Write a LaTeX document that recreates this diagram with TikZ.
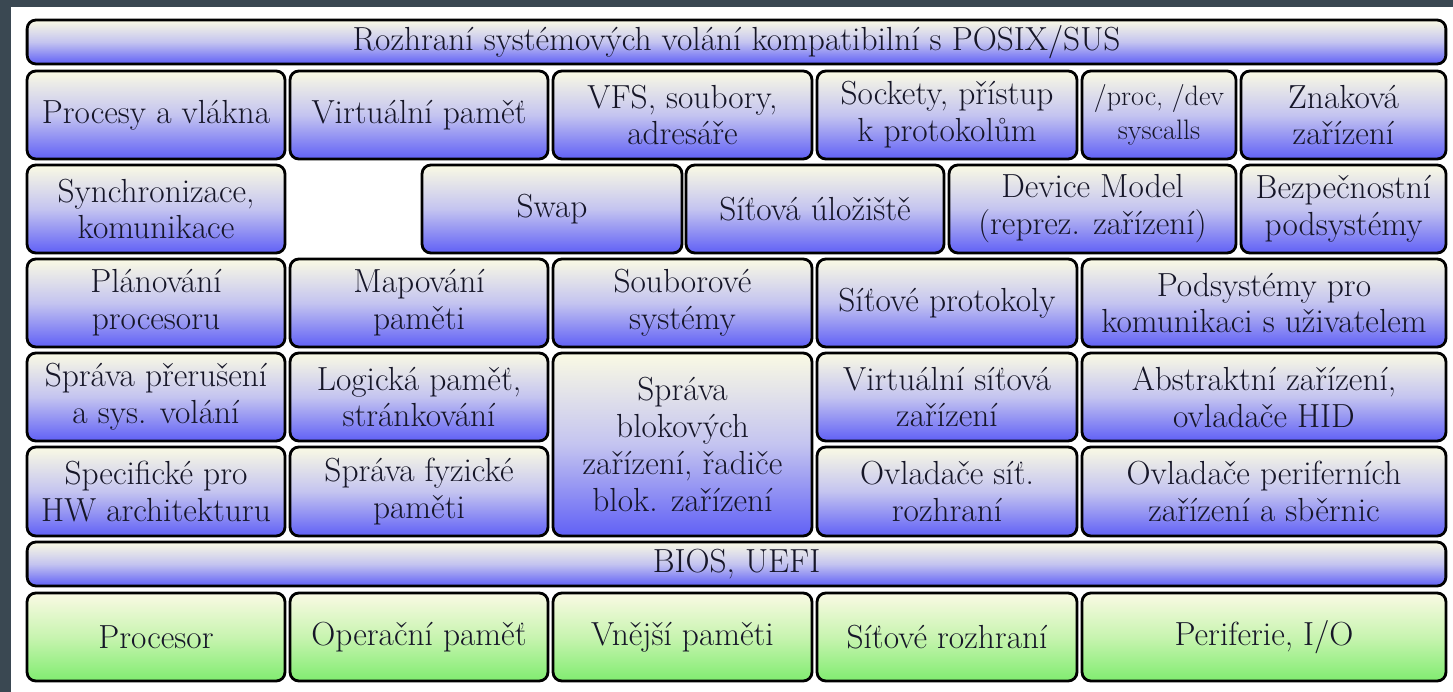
\documentclass[tikz,border=0pt]{standalone}
\usepackage{tikz}
\usetikzlibrary{positioning}
\definecolor{creamtop}{RGB}{250,250,228}
\definecolor{bluemid}{RGB}{196,196,240}
\definecolor{bluebot}{RGB}{96,96,246}
\definecolor{greenmid}{RGB}{200,244,176}
\definecolor{greenbot}{RGB}{128,236,112}
\definecolor{slate}{RGB}{58,72,82}
\definecolor{inktext}{RGB}{22,22,40}

\begin{document}
\begin{tikzpicture}[x=0.02cm, y=-0.02cm,
  layer/.style={rectangle, draw=black, line width=1.6pt, rounded corners=5pt, top color=creamtop, bottom color=bluebot, middle color=bluemid, text=inktext, align=center, inner sep=1pt, minimum width=5.16cm, minimum height=1.76cm, font=\fontsize{19}{21}\selectfont},
  hwbox/.style={layer, bottom color=greenbot, middle color=greenmid},
  bar/.style={layer, minimum width=28.38cm, minimum height=0.88cm}
]
  \useasboundingbox (0,0) rectangle (1453,692);
  \fill[slate] (0,0) rectangle (1453,692);
  \fill[white] (11,7) rectangle (1453,692);

  \node[bar] (syscall) at (736.5,42) {Rozhraní systémových volání kompatibilní s POSIX/SUS};

  \node[layer] (proc)   at (156,115)   {Procesy a vlákna};
  \node[layer] (vmem)   at (419,115)   {Virtuální paměť};
  \node[layer, minimum width=5.18cm] (vfs)  at (682.5,115) {VFS, soubory,\\adresáře};
  \node[layer, minimum width=5.20cm] (sock) at (947,115)   {Sockety, přístup\\k protokolům};
  \node[layer, minimum width=3.08cm, font=\fontsize{16}{19}\selectfont] (procfs) at (1159,115) {/proc, /dev\\syscalls};
  \node[layer, minimum width=4.10cm] (chardev) at (1343.5,115) {Znaková\\zařízení};

  \node[layer] (sync) at (156,209) {Synchronizace,\\komunikace};
  \node[layer, minimum width=5.20cm] (swap)     at (552,209)    {Swap};
  \node[layer]                       (netstor)  at (815,209)    {Síťová úložiště};
  \node[layer, minimum width=5.74cm] (devmodel) at (1092.5,209) {Device Model\\(reprez. zařízení)};
  \node[layer, minimum width=4.10cm] (secur)    at (1343.5,209) {Bezpečnostní\\podsystémy};

  \node[layer] (sched) at (156,303) {Plánování\\procesoru};
  \node[layer] (mmap)  at (419,303) {Mapování\\paměti};
  \node[layer, minimum width=5.18cm] (fsys)     at (682.5,303) {Souborové\\systémy};
  \node[layer, minimum width=5.20cm] (netproto) at (947,303)   {Síťové protokoly};
  \node[layer, minimum width=7.28cm] (usersub)  at (1264,303)  {Podsystémy pro\\komunikaci s uživatelem};

  \node[layer] (irq)    at (156,397) {Správa přerušení\\a sys. volání};
  \node[layer] (paging) at (419,397) {Logická paměť,\\stránkování};
  \node[layer, minimum width=5.18cm, minimum height=3.66cm] (blockdev) at (682.5,444.5) {Správa\\blokových\\zařízení, řadiče\\blok. zařízení};
  \node[layer, minimum width=5.20cm] (vnet) at (947,397)  {Virtuální síťová\\zařízení};
  \node[layer, minimum width=7.28cm] (hid)  at (1264,397) {Abstraktní zařízení,\\ovladače HID};

  \node[layer, minimum height=1.78cm] (arch)    at (156,491.5) {Specifické pro\\HW architekturu};
  \node[layer, minimum height=1.78cm] (physmem) at (419,491.5) {Správa fyzické\\paměti};
  \node[layer, minimum height=1.78cm, minimum width=5.20cm] (nicdrv) at (947,491.5)  {Ovladače síť.\\rozhraní};
  \node[layer, minimum height=1.78cm, minimum width=7.28cm] (busdrv) at (1264,491.5) {Ovladače periferních\\zařízení a sběrnic};

  \node[bar] (bios) at (736.5,564) {BIOS, UEFI};

  \node[hwbox] (cpu)  at (156,637) {Procesor};
  \node[hwbox] (ram)  at (419,637) {Operační paměť};
  \node[hwbox, minimum width=5.18cm] (disk)   at (682.5,637) {Vnější paměti};
  \node[hwbox, minimum width=5.20cm] (nic)    at (947,637)   {Síťové rozhraní};
  \node[hwbox, minimum width=7.28cm] (periph) at (1264,637)  {Periferie, I/O};
\end{tikzpicture}
\end{document}
